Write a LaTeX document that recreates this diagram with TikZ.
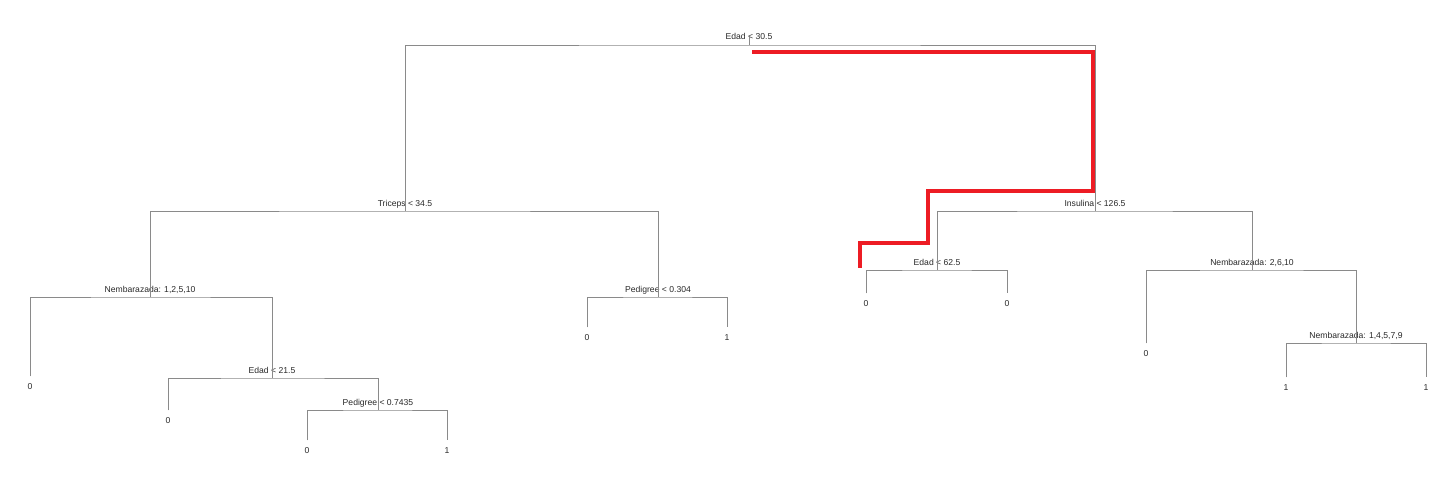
\documentclass[tikz,border=0pt]{standalone}
\usepackage{fontspec}
\setmainfont{Liberation Sans}
\definecolor{edgegray}{HTML}{8A8A8A}
\definecolor{txtgray}{HTML}{2A2A2A}
\definecolor{pathred}{HTML}{ED1C24}
\tikzset{
  edge/.style={draw=edgegray, line width=0.9pt},
  splitlabel/.style={anchor=base, inner sep=0pt, text=txtgray, font=\fontsize{8.6}{10}\selectfont},
  leaf/.style={anchor=base, inner sep=0pt, outer ysep=6.6pt, text=txtgray, font=\fontsize{8.6}{10}\selectfont},
  redpath/.style={draw=pathred, line width=4pt, line join=miter},
}
\begin{document}
\begin{tikzpicture}[x=1pt, y=-1pt]
\useasboundingbox (0,0) rectangle (1453,484);
\fill[white] (0,0) rectangle (1453,484);
% split points (bar level)
\coordinate (root) at (749,45);
\coordinate (tri) at (405,211);
\coordinate (ins) at (1095,211);
\coordinate (nA) at (150,297);
\coordinate (pA) at (658,297);
\coordinate (eA) at (272,378);
\coordinate (pB) at (378,410);
\coordinate (eB) at (937,270);
\coordinate (nB) at (1252,270);
\coordinate (nC) at (1356,343);
% split labels
\node[splitlabel] (troot) at (749,40) {Edad < 30.5};
\node[splitlabel] (ttri) at (405,206.5) {Triceps < 34.5};
\node[splitlabel] (tins) at (1095,206.5) {Insulina < 126.5};
\node[splitlabel] (tnA) at (150,292.5) {Nembarazada: 1,2,5,10};
\node[splitlabel] (tpA) at (658,292.5) {Pedigree < 0.304};
\node[splitlabel] (teA) at (272,373.5) {Edad < 21.5};
\node[splitlabel] (tpB) at (378,405.5) {Pedigree < 0.7435};
\node[splitlabel] (teB) at (937,265.5) {Edad < 62.5};
\node[splitlabel] (tnB) at (1252,265.5) {Nembarazada: 2,6,10};
\node[splitlabel] (tnC) at (1356,338.5) {Nembarazada: 1,4,5,7,9};
% leaves
\node[leaf] (l1) at (30,389) {0};
\node[leaf] (l2) at (168,423) {0};
\node[leaf] (l3) at (307,453) {0};
\node[leaf] (l4) at (447,453) {1};
\node[leaf] (l5) at (587,340) {0};
\node[leaf] (l6) at (727,340) {1};
\node[leaf] (l7) at (866,306) {0};
\node[leaf] (l8) at (1007,306) {0};
\node[leaf] (l9) at (1146,356) {0};
\node[leaf] (l10) at (1286,390) {1};
\node[leaf] (l11) at (1426,390) {1};
% connectors
\draw[edge] (root) -- ++(0,-8);
\draw[edge] (tri) |- (root) -| (ins);
\draw[edge] (nA) |- (tri) -| (pA);
\draw[edge] (l1.north) |- (nA) -| (eA);
\draw[edge] (l2.north) |- (eA) -| (pB);
\draw[edge] (l3.north) |- (pB) -| (l4.north);
\draw[edge] (l5.north) |- (pA) -| (l6.north);
\draw[edge] (eB) |- (ins) -| (nB);
\draw[edge] (l7.north) |- (eB) -| (l8.north);
\draw[edge] (l9.north) |- (nB) -| (nC);
\draw[edge] (l10.north) |- (nC) -| (l11.north);
% red highlighted path
\coordinate (r0) at (752,52);
\coordinate (r1) at (1093,52);
\coordinate (r2) at (1093,191);
\coordinate (r3) at (928,191);
\coordinate (r4) at (928,243);
\coordinate (r5) at (860,243);
\coordinate (r6) at (860,268);
\draw[redpath] (r0) -- (r1) -- (r2) -- (r3) -- (r4) -- (r5) -- (r6);
\end{tikzpicture}
\end{document}
